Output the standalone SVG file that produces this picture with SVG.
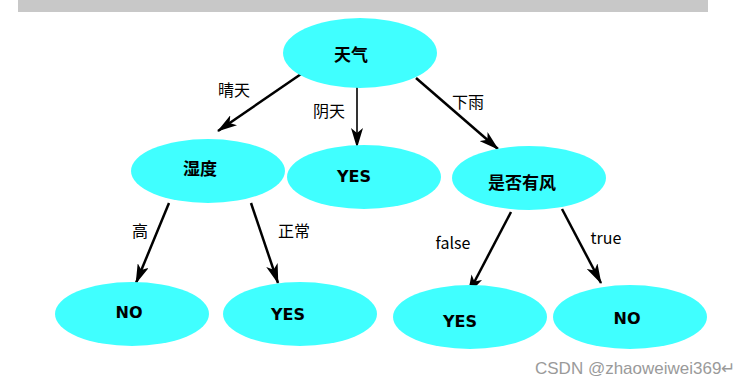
<svg xmlns="http://www.w3.org/2000/svg" width="747" height="384" viewBox="0 0 747 384">
<style>
.node{fill:#40FFFF;stroke:none}
.nt{font-family:"Noto Sans CJK SC","DejaVu Sans",sans-serif;font-weight:bold;font-size:17px;fill:#000;text-anchor:middle;dominant-baseline:central}
.en{font-family:"DejaVu Sans",sans-serif;font-weight:bold;font-size:16px}
.lb{font-family:"Noto Sans CJK SC","DejaVu Sans",sans-serif;font-size:16px;fill:#000;text-anchor:middle;dominant-baseline:central}
.edge{stroke:#000;stroke-width:2.5;fill:none;marker-end:url(#ah)}
</style>
<defs>
<marker id="ah" markerUnits="userSpaceOnUse" viewBox="0 0 20 12" refX="19" refY="6" markerWidth="20" markerHeight="12" orient="auto">
<path d="M0,0 L20,6 L0,12 L5,6 z" fill="#000"/>
</marker>
</defs>
<rect x="18" y="0" width="690" height="12" fill="#C8C8C8"/>
<g id="connectors">
<line class="edge" x1="304" y1="72" x2="218" y2="131"/>
<line class="edge" x1="357" y1="87" x2="357" y2="147" style="stroke-width:1.6"/>
<line class="edge" x1="416" y1="78" x2="498" y2="149"/>
<line class="edge" x1="169" y1="203" x2="136" y2="283"/>
<line class="edge" x1="251" y1="203" x2="278" y2="283"/>
<line class="edge" x1="511" y1="212" x2="468" y2="294"/>
<line class="edge" x1="562" y1="209" x2="601" y2="283"/>
</g>
<g id="labels">
<text class="lb" x="234" y="89">晴天</text>
<text class="lb" x="329" y="110">阴天</text>
<text class="lb" x="468" y="101">下雨</text>
<text class="lb" x="140" y="230">高</text>
<text class="lb" x="294" y="230">正常</text>
<text class="lb" x="453" y="242" font-family="DejaVu Sans">false</text>
<text class="lb" x="606" y="237" font-family="DejaVu Sans">true</text>
</g>
<g id="n-weather"><ellipse class="node" cx="360" cy="53" rx="77" ry="35"/><text class="nt" x="351" y="53">天气</text></g>
<g id="n-humidity"><ellipse class="node" cx="208" cy="171" rx="77" ry="32"/><text class="nt" x="200" y="167">湿度</text></g>
<g id="n-yes-mid"><ellipse class="node" cx="364" cy="177" rx="77" ry="32"/><text class="nt en" x="354" y="176">YES</text></g>
<g id="n-wind"><ellipse class="node" cx="529" cy="178" rx="77" ry="32"/><text class="nt" x="522" y="181">是否有风</text></g>
<g id="n-no-left"><ellipse class="node" cx="132" cy="314" rx="77" ry="32"/><text class="nt en" x="129" y="312">NO</text></g>
<g id="n-yes-left"><ellipse class="node" cx="300" cy="314" rx="77" ry="32"/><text class="nt en" x="288" y="314">YES</text></g>
<g id="n-yes-right"><ellipse class="node" cx="470" cy="317" rx="77" ry="32"/><text class="nt en" x="460" y="321">YES</text></g>
<g id="n-no-right"><ellipse class="node" cx="630" cy="317" rx="77" ry="32"/><text class="nt en" x="627" y="318">NO</text></g>
<text x="535" y="374" font-family="Liberation Sans,Arial,sans-serif" font-size="17" fill="#9a9a9a">CSDN @zhaoweiwei369↵</text>
</svg>
